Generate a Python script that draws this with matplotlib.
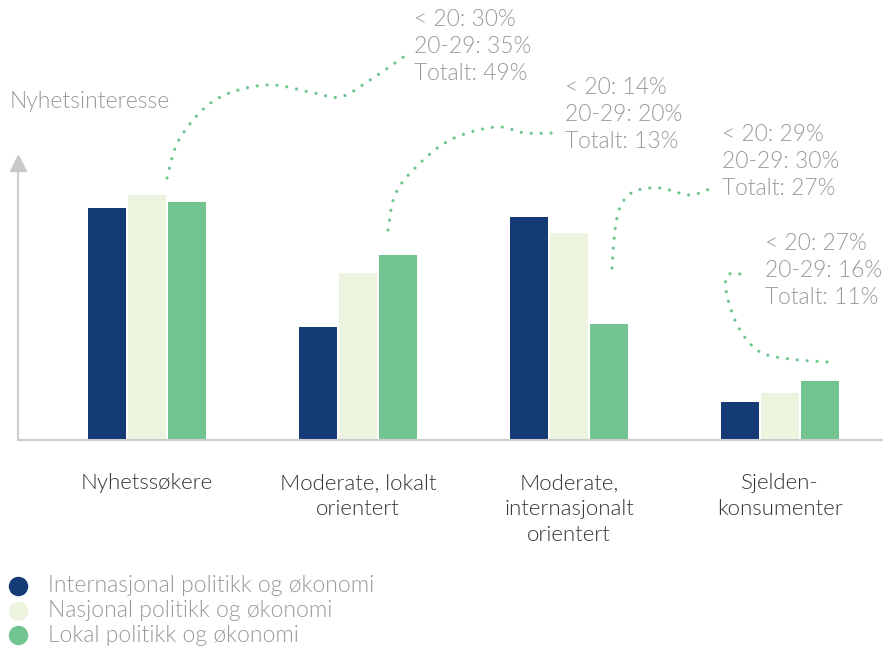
import numpy as np
import matplotlib
matplotlib.use("Agg")
import matplotlib.pyplot as plt

# --- data -------------------------------------------------------------
groups = ["Nyhetssøkere", "Moderate, lokalt\norientert",
          "Moderate,\ninternasjonalt\norientert", "Sjelden-\nkonsumenter"]
series = ["Internasjonal politikk og økonomi",
          "Nasjonal politikk og økonomi",
          "Lokal politikk og økonomi"]
internasjonal = [232, 113, 223, 38]
nasjonal = [245, 167, 207, 47]
lokal = [238, 185, 116, 59]
notes = [
    "< 20: 30%\n20-29: 35%\nTotalt: 49%",
    "< 20: 14%\n20-29: 20%\nTotalt: 13%",
    "< 20: 29%\n20-29: 30%\nTotalt: 27%",
    "< 20: 27%\n20-29: 16%\nTotalt: 11%",
]

colors = ["#143b75", "#ecf4df", "#72c591"]
GRAY = "#999999"
DOT = "#6cc58c"
W, H = 883, 648

plt.rcParams["font.family"] = ["Lato", "DejaVu Sans"]
plt.rcParams["font.weight"] = 300

fig = plt.figure(figsize=(W / 100, H / 100), dpi=100)
ax = fig.add_axes([18 / W, (H - 440) / H, (W - 18) / W, 280 / H])
ax.set_xlim(-0.611, 3.488)
ax.set_ylim(0, 280)
ax.axis("off")

x = np.arange(len(groups))
bw, step = 0.18, 0.19
for i, vals in enumerate([internasjonal, nasjonal, lokal]):
    ax.bar(x + (i - 1) * step, vals, width=bw, color=colors[i], zorder=2)

# axis lines
ax.plot([0, 1], [0, 0], transform=ax.transAxes, color="#cccccc", lw=1.5,
        clip_on=False, zorder=3)
ax.plot([0, 0], [0, 0.97], transform=ax.transAxes, color="#cccccc", lw=1.5,
        clip_on=False)
ax.plot([0], [0.99], transform=ax.transAxes, marker="^", ms=12,
        color="#c8c8c8", clip_on=False)

for xi, lab in zip(x, groups):
    fig.text((147 + 211 * xi) / W, 1 - 473 / H, lab, ha="center", va="top",
             fontsize=16, color="#333333", linespacing=1.36)


def px(px_x, px_y):
    return px_x / W, 1 - px_y / H


fig.text(*px(10, 101), "Nyhetsinteresse", fontsize=16.5, color=GRAY,
         va="center")

# annotations
text_pos = [(414, 9), (565, 77), (722, 124), (765, 233)]
curves = [
    [(167, 178), (180, 138), (215, 100), (265, 85), (310, 92), (340, 97),
     (370, 80), (405, 56)],
    [(388, 230), (395, 195), (415, 168), (450, 140), (495, 127), (525, 133),
     (553, 133)],
    [(612, 268), (615, 230), (621, 205), (635, 191), (660, 188), (690, 195),
     (714, 187)],
    [(827, 362), (790, 359), (760, 352), (740, 330), (728, 300), (726, 278),
     (735, 273), (748, 277)],
]


def smooth(pts, n=30):
    p = np.array(pts, float)
    p = np.vstack([p[0], p, p[-1]])
    out = []
    for k in range(1, len(p) - 2):
        p0, p1, p2, p3 = p[k - 1], p[k], p[k + 1], p[k + 2]
        for t in np.linspace(0, 1, n, endpoint=False):
            out.append(0.5 * ((2 * p1) + (-p0 + p2) * t
                              + (2 * p0 - 5 * p1 + 4 * p2 - p3) * t ** 2
                              + (-p0 + 3 * p1 - 3 * p2 + p3) * t ** 3))
    out.append(p[-2])
    return np.array(out)


for pts, (tx, ty), txt in zip(curves, text_pos, notes):
    c = smooth(pts)
    fx = c[:, 0] / W
    fy = 1 - c[:, 1] / H
    fig.add_artist(plt.Line2D(fx, fy, transform=fig.transFigure, color=DOT,
                              lw=2.3, linestyle=(0, (0.01, 3.1)),
                              dash_capstyle="round"))
    fig.text(*px(tx, ty), txt, fontsize=16.4, color=GRAY, va="top",
             linespacing=1.35)

# legend
for i, (name, col) in enumerate(zip(series, colors)):
    y = 586 + 24.5 * i
    fig.add_artist(plt.Line2D([18 / W], [1 - y / H], marker="o", ms=13,
                              color=col, transform=fig.transFigure))
    fig.text(*px(48, y), name, fontsize=16.5, color=GRAY, va="center")

fig.savefig("out.png", dpi=100)
